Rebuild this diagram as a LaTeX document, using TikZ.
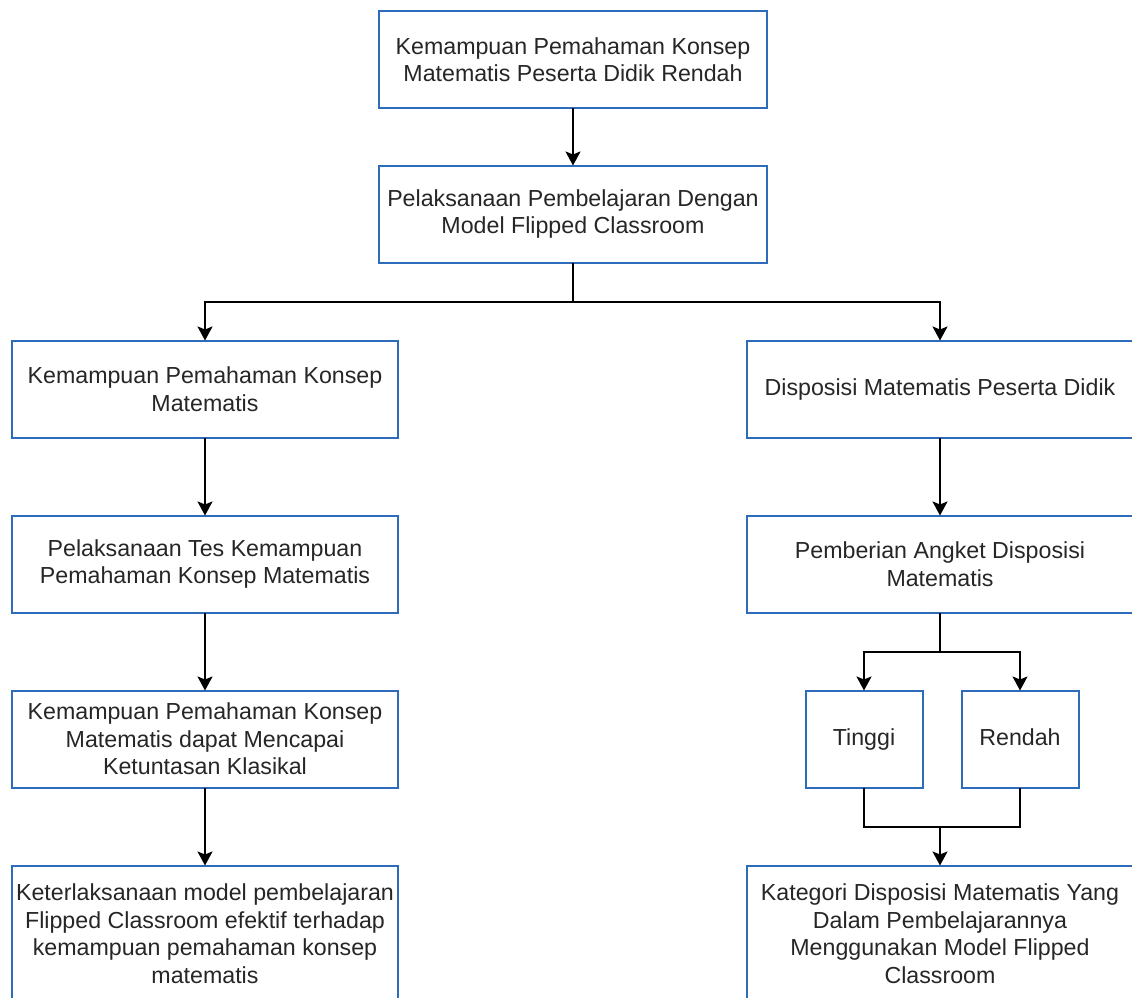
\documentclass[tikz,border=0pt]{standalone}
\usepackage{fontspec}
\setmainfont{Liberation Sans}
\usetikzlibrary{arrows.meta, positioning}
\definecolor{boxblue}{RGB}{44,108,186}
\definecolor{txtgray}{RGB}{38,38,38}

\begin{document}
\begin{tikzpicture}[x=1pt, y=-1pt, font=\fontsize{23.2}{27.5}\selectfont,
    >={Stealth[length=14pt, width=15pt, inset=3pt]}, node distance=78pt,
    b/.style={rectangle, draw=boxblue, line width=2pt, outer sep=0pt, text=txtgray, align=center, minimum width=386pt, minimum height=97pt, inner sep=2pt},
    s/.style={b, minimum width=117pt, text height=17pt, text depth=5pt},
    l/.style={->, line width=2pt}]
\useasboundingbox (0,0) rectangle (1132,998);
\node[b, minimum width=388pt, minimum height=96pt] (top) at (573,59.5) {Kemampuan Pemahaman Konsep\\Matematis Peserta Didik Rendah};
\node[b, minimum width=388pt, below=58pt of top] (flip) {Pelaksanaan Pembelajaran Dengan\\Model Flipped Classroom};
\node[b, below=of flip, xshift=-368pt] (kpk) {Kemampuan Pemahaman Konsep\\Matematis};
\node[b, below=of flip, xshift=367pt] (dis) {Disposisi Matematis Peserta Didik};
\node[b, below=of kpk] (tes) {Pelaksanaan Tes Kemampuan\\Pemahaman Konsep Matematis};
\node[b, below=of tes] (tuntas) {Kemampuan Pemahaman Konsep\\Matematis dapat Mencapai\\Ketuntasan Klasikal};
\node[b, minimum height=136pt, below=of tuntas] (efektif) {Keterlaksanaan model pembelajaran\\Flipped Classroom efektif terhadap\\kemampuan pemahaman konsep\\matematis};
\node[b, below=of dis] (angket) {Pemberian Angket Disposisi\\Matematis};
\node[s, below=of angket, xshift=-76pt] (tinggi) {Tinggi};
\node[s, below=of angket, xshift=80pt] (rendah) {Rendah};
\coordinate (gabung) at (angket |- tinggi.south);
\node[b, minimum height=136pt, below=of gabung] (kategori) {Kategori Disposisi Matematis Yang\\Dalam Pembelajarannya\\Menggunakan Model Flipped\\Classroom};
% connectors
\draw[l] (top) -- (flip);
\draw[l] (flip.south) -- ++(0,39) -| (kpk.north);
\draw[l] (flip.south) -- ++(0,39) -| (dis.north);
\draw[l] (kpk) -- (tes);
\draw[l] (tes) -- (tuntas);
\draw[l] (tuntas) -- (efektif);
\draw[l] (dis) -- (angket);
\draw[l] (angket.south) -- ++(0,39) -| (tinggi.north);
\draw[l] (angket.south) -- ++(0,39) -| (rendah.north);
\draw[line width=2pt] (tinggi.south) -- ++(0,39) -| (rendah.south);
\draw[l] (gabung) ++(0,39) -- (kategori.north);
\end{tikzpicture}
\end{document}
